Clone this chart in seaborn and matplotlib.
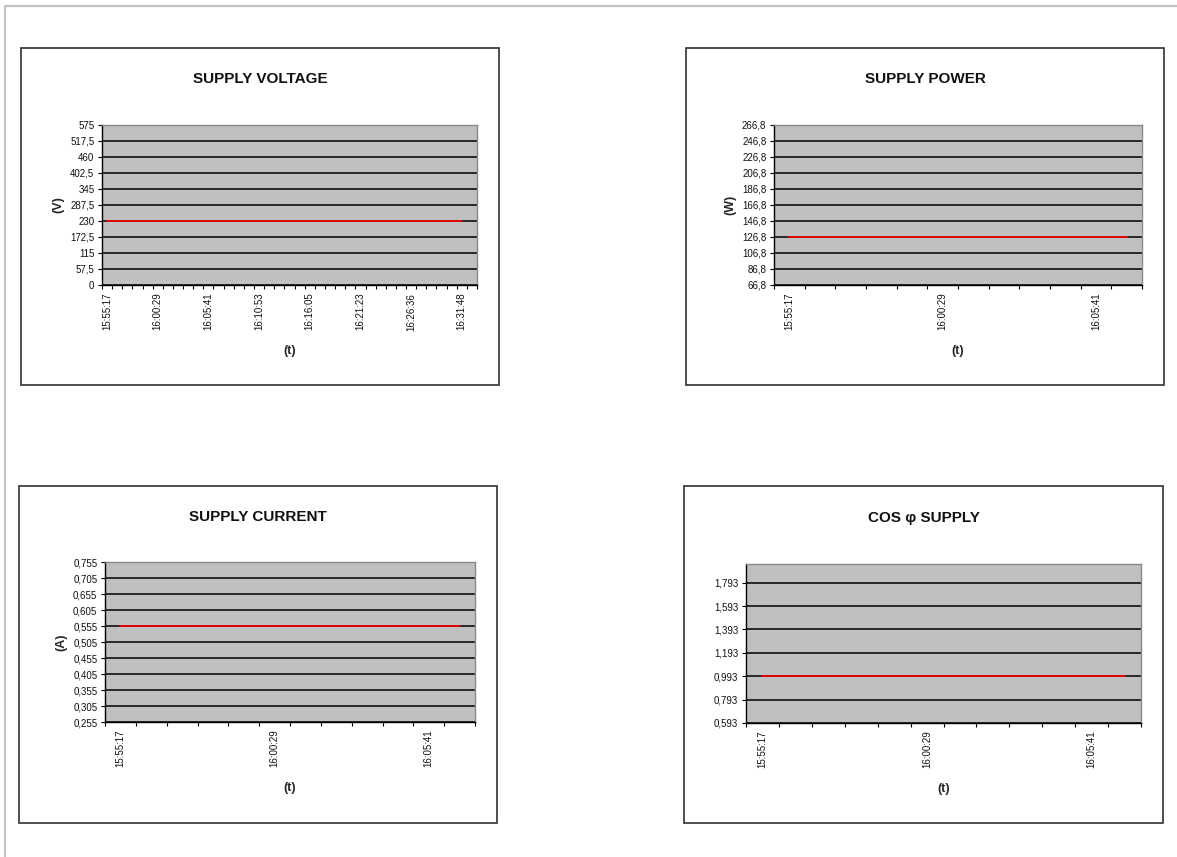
import numpy as np
import matplotlib
matplotlib.use("Agg")
import matplotlib.pyplot as plt
from matplotlib.patches import Rectangle
from matplotlib.lines import Line2D
import seaborn as sns

# ---- data ----
voltage = [230.0] * 36 + [np.nan]          # 37 categories, last one empty
voltage_labels = ['15:55:17', '16:00:29', '16:05:41', '16:10:53',
                  '16:16:05', '16:21:23', '16:26:36', '16:31:48']
voltage_ticks = [0, 57.5, 115, 172.5, 230, 287.5, 345, 402.5, 460, 517.5, 575]

power = [126.8] * 12
power_ticks = [66.8, 86.8, 106.8, 126.8, 146.8, 166.8, 186.8, 206.8, 226.8, 246.8, 266.8]

current = [0.555] * 12
current_ticks = [0.255, 0.305, 0.355, 0.405, 0.455, 0.505, 0.555, 0.605, 0.655, 0.705, 0.755]

cosphi = [0.993] * 12
cosphi_ticks = [0.593, 0.793, 0.993, 1.193, 1.393, 1.593, 1.793]
cosphi_top = 1.953

short_labels = ['15:55:17', '16:00:29', '16:05:41']

sns.set_style('white')
plt.rcParams['font.family'] = ['Liberation Sans', 'DejaVu Sans']

W, H = 1177, 857
fig = plt.figure(figsize=(W / 100, H / 100), dpi=100)


def frac(x0, y0, x1, y1):
    return [x0 / W, 1 - y1 / H, (x1 - x0) / W, (y1 - y0) / H]


def fmt(v):
    return ('%g' % v).replace('.', ',')


def panel(plot_px, box_px, title, title_y, values, ticks, ymax, ylabel, xlabels):
    # chart frame
    bx = frac(*box_px)
    fig.add_artist(Rectangle((bx[0], bx[1]), bx[2], bx[3], transform=fig.transFigure,
                             fill=False, edgecolor='#303030', lw=1.2))
    ax = fig.add_axes(frac(*plot_px))
    ax.set_facecolor('#c0c0c0')
    n = len(values)
    idx = np.arange(n)
    sns.lineplot(x=idx, y=np.array(values, dtype=float), ax=ax, color='#ff0000',
                 linewidth=1.2, zorder=5)
    ax.set_xlim(-0.5, n - 0.5)
    ax.set_ylim(ticks[0], ymax)

    ax.set_yticks(ticks)
    ax.set_yticklabels([fmt(t) for t in ticks])
    ax.yaxis.grid(True, color='black', linewidth=1.1)
    if ticks[-1] >= ymax:
        ax.get_ygridlines()[-1].set_visible(False)

    ax.set_xticks(idx[::5][:len(xlabels)])
    ax.set_xticklabels(xlabels, rotation=90, va='top', ha='center')
    ax.set_xticks(np.arange(n + 1) - 0.5, minor=True)
    ax.tick_params(axis='x', which='major', length=0, pad=5.5, labelsize=7,
                   labelcolor='#111111')
    ax.tick_params(axis='x', which='minor', length=3, width=0.8, color='black',
                   direction='out', bottom=True)
    ax.tick_params(axis='y', which='major', length=3, width=0.8, color='black',
                   direction='out', left=True, pad=2.5, labelsize=7,
                   labelcolor='#111111')

    for s in ['left', 'bottom']:
        ax.spines[s].set_color('black')
        ax.spines[s].set_linewidth(1.0)
    for s in ['top', 'right']:
        ax.spines[s].set_color('#8a8a8a')
        ax.spines[s].set_linewidth(1.0)
    ax.set_xlabel('')
    ax.set_ylabel('')

    cx = (box_px[0] + box_px[2]) / 2
    fig.text(cx / W, 1 - title_y / H, title, ha='center', va='center',
             fontsize=11, fontweight='bold', color='#111111')
    px = (plot_px[0] + plot_px[2]) / 2
    fig.text(px / W, 1 - (plot_px[3] + 66) / H, '(t)', ha='center', va='center',
             fontsize=9, fontweight='bold')
    if ylabel:
        py = (plot_px[1] + plot_px[3]) / 2
        fig.text((plot_px[0] - 44) / W, 1 - py / H, ylabel, ha='center', va='center',
                 rotation=90, fontsize=9, fontweight='bold')
    return ax


panel((102, 125, 477, 285), (21, 48, 499, 385), 'SUPPLY VOLTAGE', 79,
      voltage, voltage_ticks, voltage_ticks[-1], '(V)', voltage_labels)
panel((774, 125, 1142, 285), (686, 48, 1164, 385), 'SUPPLY POWER', 79,
      power, power_ticks, power_ticks[-1], '(W)', short_labels)
panel((105, 562, 475, 722), (19, 486, 497, 823), 'SUPPLY CURRENT', 517,
      current, current_ticks, current_ticks[-1], '(A)', short_labels)
panel((746, 564, 1141, 723), (684, 486, 1163, 823), 'COS \u03c6 SUPPLY', 518,
      cosphi, cosphi_ticks, cosphi_top, None, short_labels)

# page edges
fig.add_artist(Line2D([5 / W, 1], [1 - 6 / H, 1 - 6 / H], transform=fig.transFigure,
                      color='#c4c4c4', lw=1.6))
fig.add_artist(Line2D([5 / W, 5 / W], [0, 1 - 6 / H], transform=fig.transFigure,
                      color='#c4c4c4', lw=1.6))

fig.savefig('out.png', dpi=100, facecolor='white')
plt.close(fig)
